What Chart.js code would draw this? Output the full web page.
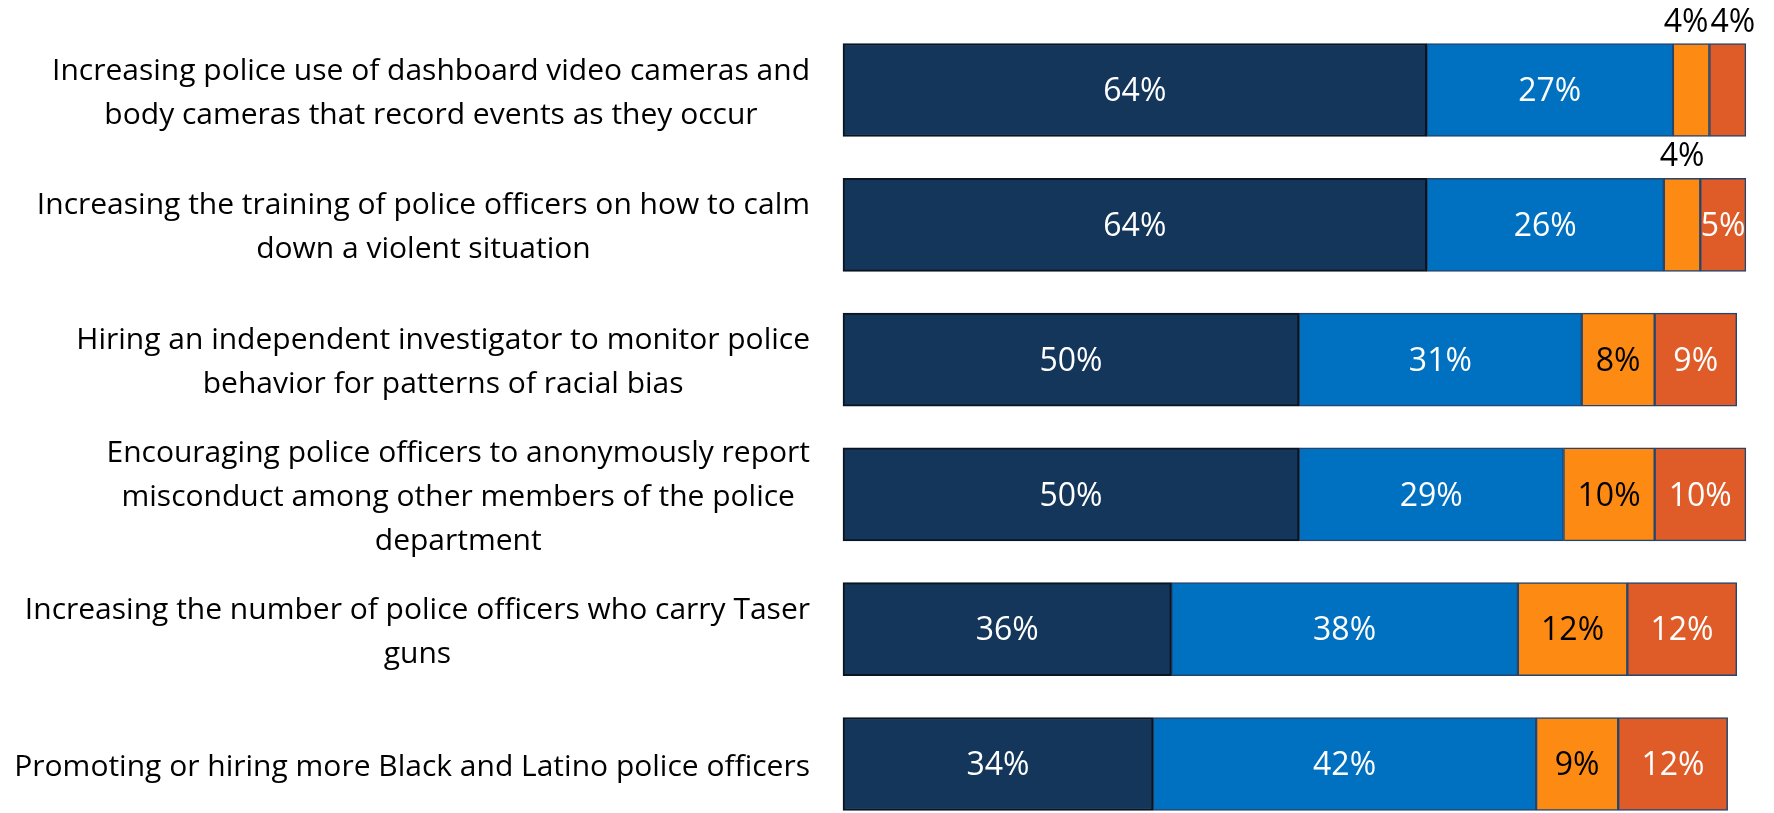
<!DOCTYPE html>
<html>
<head>
<meta charset="utf-8">
<script src="https://cdn.jsdelivr.net/npm/chart.js@4.4.1/dist/chart.umd.min.js"></script>
<style>
  html, body { margin: 0; background: #fff; }
  #wrap { width: 1774px; height: 813px; }
</style>
</head>
<body>
<div id="wrap"><canvas id="chart"></canvas></div>
<script>
// policy items, one array entry per wrapped line
const categories = [
  ['Increasing police use of dashboard video cameras and', 'body cameras that record events as they occur'],
  ['Increasing the training of police officers on how to calm', 'down a violent situation'],
  ['Hiring an independent investigator to monitor police', 'behavior for patterns of racial bias'],
  ['Encouraging police officers to anonymously report', 'misconduct among other members of the police', 'department'],
  ['Increasing the number of police officers who carry Taser', 'guns'],
  ['Promoting or hiring more Black and Latino police officers']
];

const stronglyFavor = [64, 64, 50, 50, 36, 34];
const somewhatFavor = [27, 26, 31, 29, 38, 42];
const somewhatOppose = [4, 4, 8, 10, 12, 9];
const stronglyOppose = [4, 5, 9, 10, 12, 12];

const labelFont = '30px "Open Sans"';
const valueFont = '32px "Open Sans"';
const lineHeight = 44;

// category text drawn right-aligned as a block, lines centred inside it
const categoryLabels = {
  id: 'categoryLabels',
  afterDatasetsDraw(chart) {
    const ctx = chart.ctx;
    const yScale = chart.scales.y;
    const right = chart.chartArea.left - 33;
    ctx.save();
    ctx.font = labelFont;
    ctx.fillStyle = '#000';
    ctx.textAlign = 'center';
    ctx.textBaseline = 'middle';
    categories.forEach((lines, i) => {
      const w = Math.max(...lines.map(l => ctx.measureText(l).width));
      const cx = right - w / 2;
      const cy = yScale.getPixelForValue(i) + 3;
      const top = cy - (lines.length - 1) * lineHeight / 2;
      lines.forEach((l, j) => ctx.fillText(l, cx, top + j * lineHeight));
    });
    ctx.restore();
  }
};

// percentages inside each segment, or above the bar when the segment is too narrow
const valueLabels = {
  id: 'valueLabels',
  afterDatasetsDraw(chart) {
    const ctx = chart.ctx;
    ctx.save();
    ctx.font = valueFont;
    ctx.textAlign = 'center';
    ctx.textBaseline = 'middle';
    categories.forEach((_, i) => {
      const above = [];
      chart.data.datasets.forEach((ds, d) => {
        const bar = chart.getDatasetMeta(d).data[i];
        const { x, base, y, height } = bar.getProps(['x', 'base', 'y', 'height'], true);
        const text = ds.data[i] + '%';
        const w = ctx.measureText(text).width;
        const cx = (x + base) / 2;
        if (w > Math.abs(x - base) + 4) {
          above.push({ text, cx, w, top: y - height / 2 });
        } else {
          ctx.fillStyle = ds.labelColor;
          ctx.fillText(text, cx, y + 2);
        }
      });
      // push neighbouring outside labels apart
      for (let k = 1; k < above.length; k++) {
        const a = above[k - 1], b = above[k];
        const overlap = (a.cx + a.w / 2) - (b.cx - b.w / 2) + 2;
        if (overlap > 0) { a.cx -= overlap / 2; b.cx += overlap / 2; }
      }
      ctx.fillStyle = '#000';
      above.forEach(l => ctx.fillText(l.text, l.cx, l.top - 21));
    });
    ctx.restore();
  }
};

const segment = (label, data, color, labelColor, border, borderWidth) => ({
  label,
  data,
  backgroundColor: color,
  borderColor: border,
  borderWidth,
  borderSkipped: false,
  barThickness: 93,
  clip: false,
  labelColor
});

new Chart(document.getElementById('chart'), {
  type: 'bar',
  data: {
    labels: categories.map(l => l.join(' ')),
    datasets: [
      segment('Strongly favor', stronglyFavor, '#15365B', '#fff', '#0b1521', 2),
      segment('Somewhat favor', somewhatFavor, '#0070C0', '#fff', '#24456e', 1.5),
      segment('Somewhat oppose', somewhatOppose, '#FD8A13', '#000', '#24456e', 1.5),
      segment('Strongly oppose', stronglyOppose, '#DF5C29', '#fff', '#24456e', 1.5)
    ]
  },
  options: {
    indexAxis: 'y',
    responsive: true,
    maintainAspectRatio: false,
    animation: false,
    layout: { padding: { left: 843, right: 19, top: 90, bottom: 49 } },
    scales: {
      x: { stacked: true, display: false, min: 0, max: 100 },
      y: { stacked: true, display: false, offset: false }
    },
    plugins: {
      legend: { display: false },
      tooltip: { enabled: false }
    }
  },
  plugins: [categoryLabels, valueLabels]
});
</script>
</body>
</html>
